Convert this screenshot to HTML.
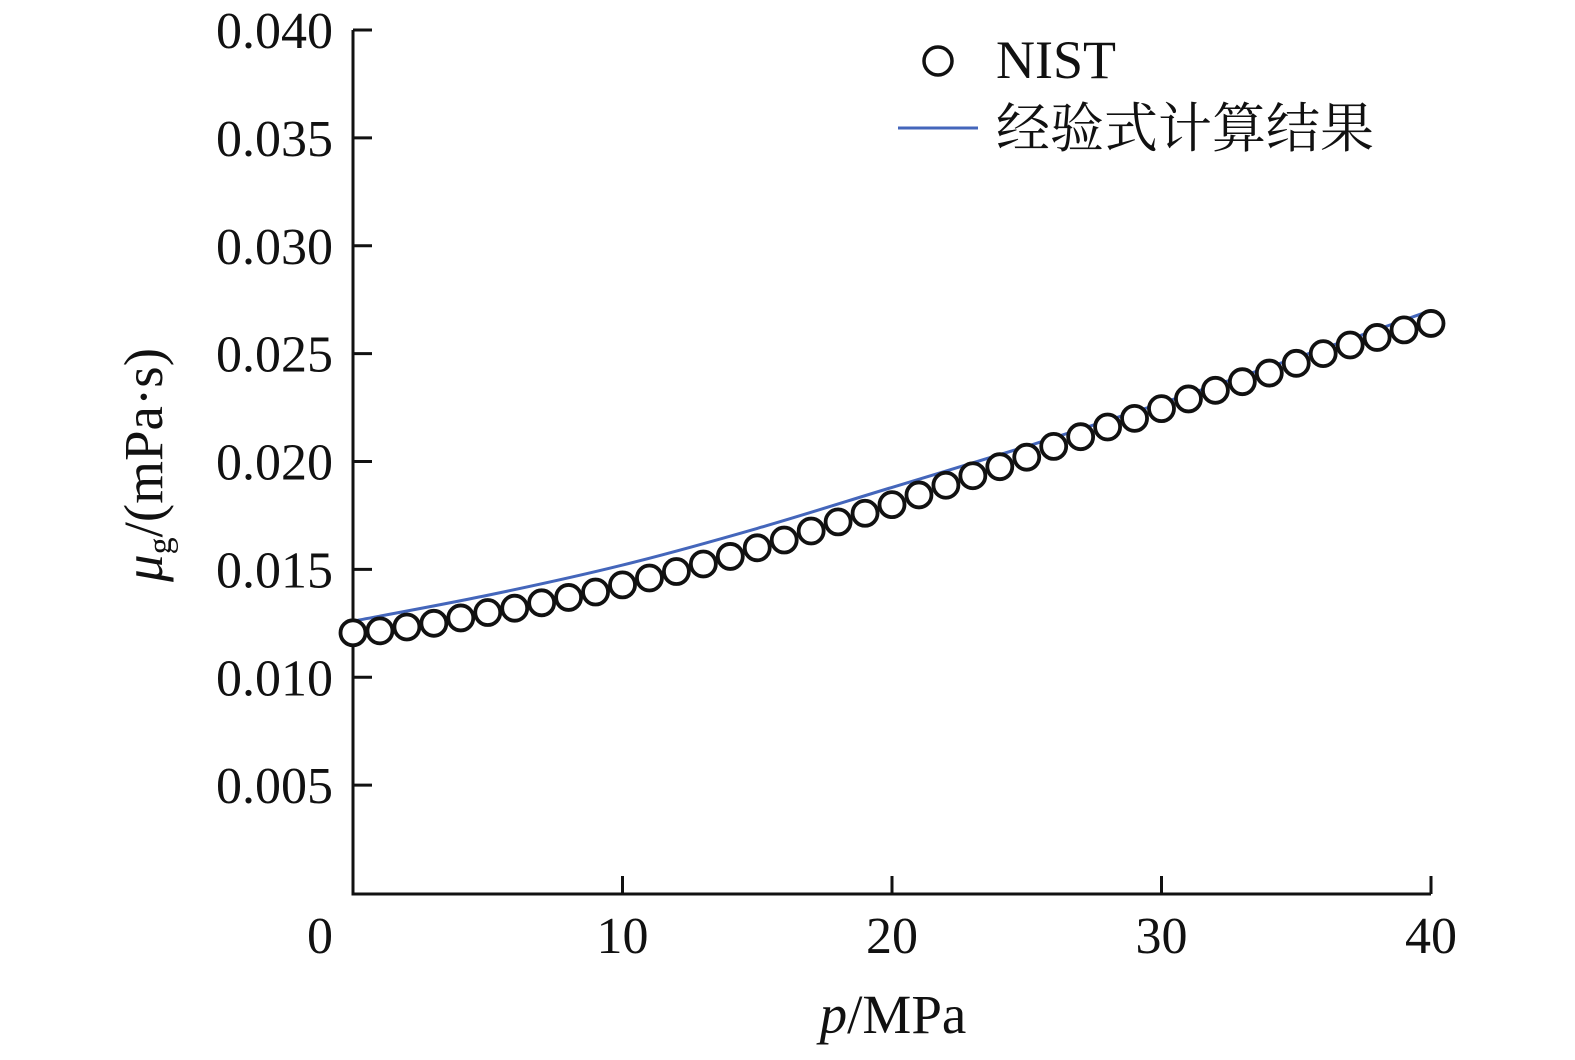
<!DOCTYPE html>
<html><head><meta charset="utf-8"><style>
body{margin:0;background:#fff}
svg text{font-family:"Liberation Serif","Noto Serif CJK SC",serif;fill:#111}
</style></head><body>
<svg width="1575" height="1055">
<g id="axes"></g>
<g id="marks"></g>
<g>
<circle cx="938" cy="61" r="14" fill="#fff" stroke="#111" stroke-width="3.5"/>
<text x="996" y="78" font-size="54">NIST</text>
<line x1="898" y1="128" x2="978" y2="128" stroke="#4466bb" stroke-width="3"/>
<text x="996" y="147" font-size="54">经验式计算结果</text>
</g>
<text x="893" y="1033" font-size="55" text-anchor="middle"><tspan font-style="italic">p</tspan>/MPa</text>
<text transform="translate(162,465) rotate(-90)" font-size="55" text-anchor="middle"><tspan font-style="italic">μ</tspan><tspan font-size="34" dy="9">g</tspan><tspan dy="-9">/(mPa·s)</tspan></text>
</svg>
<script>
const xTicks=[0,10,20,30,40];
const yTicks=[0.005,0.010,0.015,0.020,0.025,0.030,0.035,0.040];
const yTickLabels=["0.005","0.010","0.015","0.020","0.025","0.030","0.035","0.040"];
const nistP=[0,1,2,3,4,5,6,7,8,9,10,11,12,13,14,15,16,17,18,19,20,21,22,23,24,25,26,27,28,29,30,31,32,33,34,35,36,37,38,39,40];
const nistMu=[0.01206,0.01215,0.01233,0.0125,0.01275,0.0130,0.0132,0.01345,0.0137,0.01395,0.01428,0.0146,0.0149,0.01525,0.0156,0.0160,0.01636,0.01678,0.0172,0.0176,0.0180,0.01845,0.0189,0.01934,0.01976,0.0202,0.0207,0.02115,0.0216,0.0220,0.02245,0.0229,0.0233,0.0237,0.0241,0.02455,0.0250,0.0254,0.02575,0.0261,0.0264];
const fitP=[0,5,10,15,20,25,30,35,40];
const fitMu=[0.0126,0.0138,0.0152,0.0169,0.0188,0.0207,0.0227,0.0248,0.0270];
const NS="http://www.w3.org/2000/svg";
const X=p=>353+p*(1431-353)/40;
const Y=v=>893-v*(893-30)/0.040;
const axes=document.getElementById('axes'),marks=document.getElementById('marks');
function mk(tag,attrs,parent){const e=document.createElementNS(NS,tag);for(const k in attrs)e.setAttribute(k,attrs[k]);parent.appendChild(e);return e;}
let e=mk('polyline',{points:`353,30 353,894 1431,894`,fill:'none',stroke:'#111','stroke-width':3},axes);


yTicks.forEach((v,i)=>{
 let t=mk('line',{x1:353,x2:372,y1:Y(v),y2:Y(v),stroke:'#111','stroke-width':3},axes);
 
 
 let l=mk('text',{x:333,y:Y(v)+18,'font-size':52,'text-anchor':'end'},axes);
 l.textContent=yTickLabels[i];
 
 
});
xTicks.forEach(p=>{
 if(p>0){let t=mk('line',{x1:X(p),x2:X(p),y1:876,y2:894,stroke:'#111','stroke-width':3},axes);
 
 }
 let l=mk('text',{x:p===0?320:X(p),y:953,'font-size':52,'text-anchor':'middle'},axes);
 l.textContent=String(p);
 
 
});
// smooth line through fit points (Catmull-Rom)
const pts=fitP.map((p,i)=>[X(p),Y(fitMu[i])]);
let d='M'+pts[0][0]+','+pts[0][1];
for(let i=0;i<pts.length-1;i++){
 const p0=pts[Math.max(0,i-1)],p1=pts[i],p2=pts[i+1],p3=pts[Math.min(pts.length-1,i+2)];
 d+=` C${p1[0]+(p2[0]-p0[0])/6},${p1[1]+(p2[1]-p0[1])/6} ${p2[0]-(p3[0]-p1[0])/6},${p2[1]-(p3[1]-p1[1])/6} ${p2[0]},${p2[1]}`;
}
let fl=mk('path',{d:d,fill:'none',stroke:'#4466bb','stroke-width':3},marks);


nistP.forEach((p,i)=>{
 let c=mk('circle',{cx:X(p),cy:Y(nistMu[i]),r:12.5,fill:'#fff',stroke:'#111','stroke-width':3.8},marks);
 
 
});
</script>
</body></html>
